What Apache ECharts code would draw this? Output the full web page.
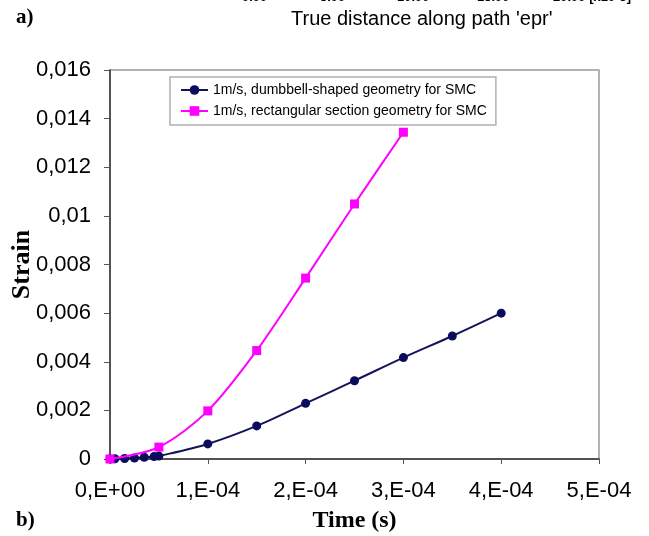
<!DOCTYPE html>
<html>
<head>
<meta charset="utf-8">
<script src="https://cdn.jsdelivr.net/npm/echarts@6/dist/echarts.min.js"></script>
<style>
  html, body { margin: 0; padding: 0; background: #fff; }
  #chart { width: 649px; height: 536px; }
</style>
</head>
<body>
<div id="chart"></div>
<script>
// Strain vs time for two SMC specimen geometries at 1 m/s
const seriesNames = [
  '1m/s, dumbbell-shaped geometry for SMC',
  '1m/s, rectangular section geometry for SMC'
];

const dumbbellTime   = [0, 5e-6, 1.5e-5, 2.5e-5, 3.5e-5, 4.5e-5, 5e-5, 1e-4, 1.5e-4, 2e-4, 2.5e-4, 3e-4, 3.5e-4, 4e-4];
const dumbbellStrain = [0, 0.00001, 0.00002, 0.00004, 0.00007, 0.0001, 0.00012, 0.00062, 0.00136, 0.00229, 0.00322, 0.00417, 0.00506, 0.006];

const rectTime   = [0, 5e-5, 1e-4, 1.5e-4, 2e-4, 2.5e-4, 3e-4];
const rectStrain = [0, 0.00049, 0.00198, 0.00446, 0.00744, 0.01049, 0.01344];

const xTickLabels = ['0,E+00', '1,E-04', '2,E-04', '3,E-04', '4,E-04', '5,E-04'];
const yTickLabels = ['0', '0,002', '0,004', '0,006', '0,008', '0,01', '0,012', '0,014', '0,016'];

// tick labels of the panel above, mostly cut off by the page edge
const topTickLabels = ['0.00', '5.00', '10.00', '15.00', '20.00 [x10-3]'];
const topTickX = [242, 320, 397, 477, 553];

const pairs = (xs, ys) => xs.map((x, i) => [x, ys[i]]);

const chart = echarts.init(document.getElementById('chart'), null, { renderer: 'canvas' });

const graphics = [
  { type: 'text', left: 16, top: 7, style: { text: 'a)', font: 'bold 21px "Liberation Serif", serif', fill: '#000' } },
  { type: 'text', left: 291, top: 9, style: { text: "True distance along path 'epr'", font: '20px "Liberation Sans", Arial, sans-serif', fill: '#000' } },
  { type: 'text', left: 16, top: 510, style: { text: 'b)', font: 'bold 21px "Liberation Serif", serif', fill: '#000' } }
];
topTickLabels.forEach((t, i) => {
  graphics.push({ type: 'text', left: topTickX[i], top: -9, style: { text: t, font: 'bold 13px "Liberation Sans", Arial, sans-serif', fill: '#000' } });
});

chart.setOption({
  animation: false,
  backgroundColor: '#fff',
  grid: {
    left: 110, right: 50, top: 70, bottom: 77,
    outerBoundsMode: 'none',
    containLabel: false,
    show: true, borderColor: '#9a9a9a', borderWidth: 1.5
  },
  legend: {
    orient: 'vertical',
    left: 170, top: 77,
    backgroundColor: '#fff',
    borderColor: '#b0b0b0', borderWidth: 1.5,
    padding: [6, 9, 7, 10],
    itemWidth: 27, itemHeight: 12, itemGap: 7,
    textStyle: { fontFamily: '"Liberation Sans", Arial, sans-serif', fontSize: 14, color: '#000' },
    data: seriesNames
  },
  xAxis: {
    type: 'value', min: 0, max: 5e-4, interval: 1e-4,
    name: 'Time (s)', nameLocation: 'middle', nameGap: 50, nameMoveOverlap: false,
    nameTextStyle: { fontFamily: '"Liberation Serif", serif', fontWeight: 'bold', fontSize: 24, color: '#000' },
    axisLine: { lineStyle: { color: '#333', width: 1.5 } },
    axisTick: { show: true, length: 5, lineStyle: { color: '#555' } },
    splitLine: { show: false },
    axisLabel: {
      margin: 21, fontSize: 22, color: '#000', fontFamily: '"Liberation Sans", Arial, sans-serif',
      formatter: v => xTickLabels[Math.round(v / 1e-4)]
    }
  },
  yAxis: {
    type: 'value', min: 0, max: 0.016, interval: 0.002,
    name: 'Strain', nameLocation: 'middle', nameGap: 75, nameRotate: 90, nameMoveOverlap: false,
    nameTextStyle: { fontFamily: '"Liberation Serif", serif', fontWeight: 'bold', fontSize: 26, color: '#000' },
    axisLine: { show: true, lineStyle: { color: '#333', width: 1.5 } },
    axisTick: { show: true, length: 6, lineStyle: { color: '#555' } },
    splitLine: { show: false },
    axisLabel: {
      margin: 19, fontSize: 22, color: '#000', fontFamily: '"Liberation Sans", Arial, sans-serif',
      formatter: v => yTickLabels[Math.round(v / 0.002)]
    }
  },
  series: [
    {
      name: seriesNames[0], type: 'line', smooth: 0.3,
      data: pairs(dumbbellTime, dumbbellStrain),
      symbol: 'circle', symbolSize: 9,
      lineStyle: { color: '#14145a', width: 2 },
      itemStyle: { color: '#0c0c5c' },
      z: 3
    },
    {
      name: seriesNames[1], type: 'line', smooth: 0.3,
      data: pairs(rectTime, rectStrain),
      symbol: 'rect', symbolSize: 9,
      lineStyle: { color: '#ff00ff', width: 2 },
      itemStyle: { color: '#ff00ff' },
      z: 4
    }
  ],
  graphic: graphics
});
</script>
</body>
</html>
